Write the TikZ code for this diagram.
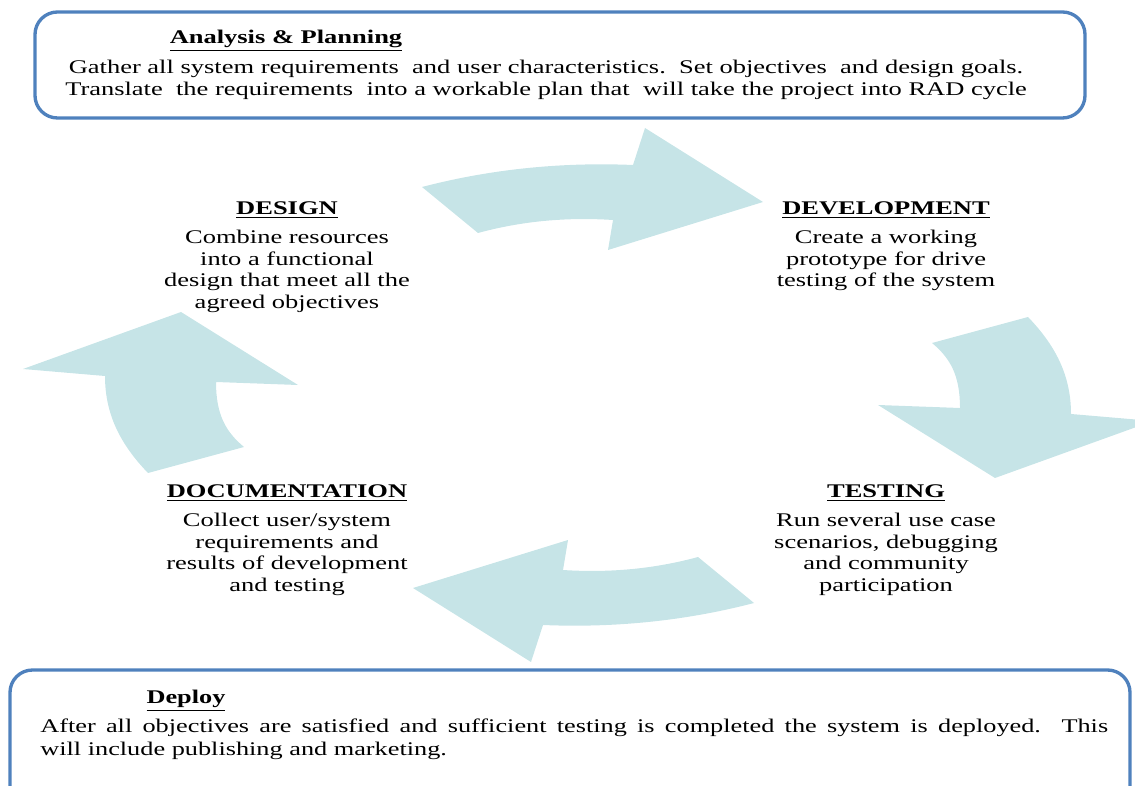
\documentclass[tikz,border=0pt]{standalone}
\usepackage{fontspec}
\setmainfont{Liberation Serif}
\newfontfamily\lblfont[FakeStretch=1.37]{Liberation Serif}
\newfontfamily\boxfont[FakeStretch=1.37]{Liberation Serif}
\newfontfamily\depfont[FakeStretch=1.36]{Liberation Serif}
\definecolor{arrowfill}{HTML}{C6E4E7}
\definecolor{boxline}{HTML}{4F81BD}
\newcommand{\hd}[1]{\underline{\textbf{#1}}}

\begin{document}
\begin{tikzpicture}[x=0.02cm, y=-0.02cm,
  phasebox/.style={draw=boxline, line width=1.9pt, rounded corners=0.45cm},
  cyclearrow/.style={fill=arrowfill},
  lbl/.style={inner sep=0pt, align=center, font=\lblfont\fontsize{11}{12.3}\selectfont},
  lblhead/.style={inner sep=0pt, font=\lblfont\fontsize{11}{12.3}\selectfont},
  boxtext/.style={inner sep=0pt, align=center, font=\boxfont\fontsize{11}{12.5}\selectfont},
  deptext/.style={inner sep=0pt, align=justify, text width=21.36cm, font=\depfont\fontsize{11}{12.9}\selectfont}]
\useasboundingbox (0,0) rectangle (1135,786);

% planning and deployment frames
\draw[phasebox] (35,12) rectangle (1085,118);
\draw[phasebox] (10,670) rectangle (1130,830);

% curved arrows of the cycle
\path[cyclearrow] (422,187) .. controls (491,169) and (562,162) .. (633,165)
  -- (645,128) -- (763,202) -- (608,250) -- (613,220)
  .. controls (567,217) and (522,221) .. (478,233) -- cycle;
\path[cyclearrow, rotate around={180:(588,395)}] (422,187) .. controls (491,169) and (562,162) .. (633,165)
  -- (645,128) -- (763,202) -- (608,250) -- (613,220)
  .. controls (567,217) and (522,221) .. (478,233) -- cycle;
\path[cyclearrow] (932,343) -- (1028,317)
  .. controls (1055,345) and (1071,375) .. (1071,414)
  -- (1153,421) -- (995,478) -- (878,405) -- (960,408)
  .. controls (960,375) and (950,358) .. (932,343) -- cycle;
\path[cyclearrow, rotate around={180:(588,395)}] (932,343) -- (1028,317)
  .. controls (1055,345) and (1071,375) .. (1071,414)
  -- (1153,421) -- (995,478) -- (878,405) -- (960,408)
  .. controls (960,375) and (950,358) .. (932,343) -- cycle;

% analysis & planning
\node[lblhead] (planh) at (286,41) {\boxfont\hd{Analysis \& Planning}};
\node[boxtext, anchor=north] (plant) at (546,60)
  {Gather all system requirements\ \ and user characteristics.\ \ Set objectives\ \ and design goals.\\
   Translate\ \ the requirements\ \ into a workable plan that\ \ will take the project into RAD cycle};

% the four phases
\node[lblhead] (desh) at (287,210) {\hd{DESIGN}};
\node[lbl, anchor=north] (dest) at (287,230)
  {Combine resources\\into a functional\\design that meet all the\\agreed objectives};

\node[lblhead] (devh) at (886,210) {\hd{DEVELOPMENT}};
\node[lbl, anchor=north] (devt) at (886,230)
  {Create a working\\prototype for drive\\testing of the system};

\node[lblhead] (tsth) at (886,493) {\hd{TESTING}};
\node[lbl, anchor=north] (tstt) at (886,513)
  {Run several use case\\scenarios, debugging\\and community\\participation};

\node[lblhead] (doch) at (287,493) {\hd{DOCUMENTATION}};
\node[lbl, anchor=north] (doct) at (287,513)
  {Collect user/system\\requirements and\\results of development\\and testing};

% deployment
\node[lblhead] (deph) at (186,701) {\depfont\hd{Deploy}};
\node[deptext, anchor=north west] (dept) at (40,719)
  {After all objectives are satisfied and sufficient testing is completed the system is deployed.\ \ This\linebreak will include publishing and marketing.};
\end{tikzpicture}
\end{document}
